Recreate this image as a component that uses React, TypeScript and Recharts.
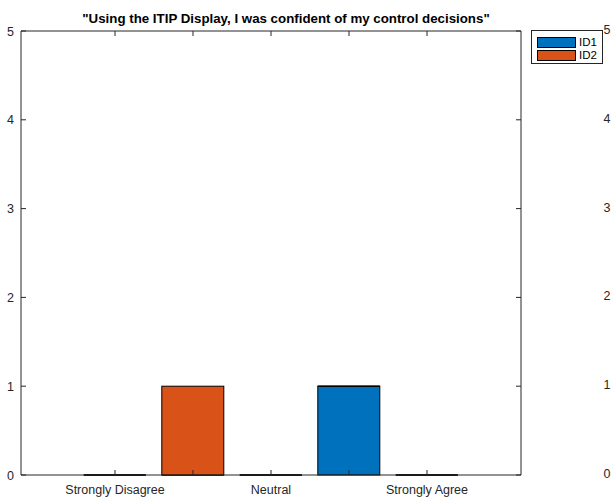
import React from "react";
import { BarChart, Bar, XAxis, YAxis, ReferenceLine } from "recharts";

const categories = ["Strongly Disagree", "Disagree", "Neutral", "Agree", "Strongly Agree"];
const tickLabels = ["Strongly Disagree", "", "Neutral", "", "Strongly Agree"];
const id1Values = [0, 0, 0, 1, 0];
const id2Values = [0, 1, 0, 0, 0];
const yTicks = [0, 1, 2, 3, 4, 5];
const seriesNames = ["ID1", "ID2"];
const seriesColors = ["#0072BD", "#D95319"];

const data = categories.map((c, i) => ({
  category: c,
  ID1: id1Values[i],
  ID2: id2Values[i],
}));

const AXIS = "#262626";
const FONT = "'Liberation Sans', Arial, Helvetica, sans-serif";
const CHART_W = 613;
const CHART_H = 500;
const M_TOP = 31;
const LEFT_W = 21;
const RIGHT_W = 92;
const BOTTOM_H = 25;
const PLOT_RIGHT = CHART_W - RIGHT_W;
const PLOT_TOP = M_TOP;
const TICK_FONT = 12.5;

const BarShape = (props: any) => {
  const { x, y, width, height, fill } = props;
  if (!height || Math.abs(height) < 0.01) {
    return <line x1={x} x2={x + width} y1={y} y2={y} stroke="#000" strokeWidth={1.5} />;
  }
  return <rect x={x} y={y} width={width} height={height} fill={fill} stroke="#000" strokeWidth={1} />;
};

const LeftTick = (props: any) => {
  const { x, y, payload } = props;
  return (
    <g>
      <line x1={x} x2={x + 5} y1={y} y2={y} stroke={AXIS} strokeWidth={1} />
      <line x1={PLOT_RIGHT - 5} x2={PLOT_RIGHT} y1={y} y2={y} stroke={AXIS} strokeWidth={1} />
      <text x={x - 7} y={y + 4.5} textAnchor="end" fontSize={TICK_FONT} fontFamily={FONT} fill={AXIS}>
        {payload.value}
      </text>
      <text x={PLOT_RIGHT + 86} y={y + 3} textAnchor="middle" fontSize={TICK_FONT} fontFamily={FONT} fill={AXIS}>
        {payload.value}
      </text>
    </g>
  );
};

const BottomTick = (props: any) => {
  const { x, y, index } = props;
  return (
    <g>
      <line x1={x} x2={x} y1={y - 5} y2={y} stroke={AXIS} strokeWidth={1} />
      <line x1={x} x2={x} y1={PLOT_TOP} y2={PLOT_TOP + 5} stroke={AXIS} strokeWidth={1} />
      <text x={x} y={y + 19} textAnchor="middle" fontSize={TICK_FONT} fontFamily={FONT} fill={AXIS}>
        {tickLabels[index] ?? ""}
      </text>
    </g>
  );
};

const LegendBox = () => (
  <div
    style={{
      position: "absolute",
      left: 531,
      top: 30,
      width: 72,
      height: 34,
      border: `1px solid ${AXIS}`,
      background: "#fff",
      boxSizing: "border-box",
      fontFamily: FONT,
      fontSize: 11.5,
      color: "#000",
      padding: "5px 0 0 5px",
    }}
  >
    {seriesNames.map((n, i) => (
      <div key={n} style={{ display: "flex", alignItems: "center", height: 13 }}>
        <div
          style={{
            width: 39,
            height: 11,
            boxSizing: "border-box",
            background: seriesColors[i],
            border: "1px solid #000",
            marginRight: 3,
          }}
        />
        <span style={{ lineHeight: "13px" }}>{n}</span>
      </div>
    ))}
  </div>
);

export default function App() {
  return (
    <div style={{ position: "absolute", left: 0, top: 0, width: CHART_W, height: CHART_H, background: "#fff" }}>
      <div
        style={{
          position: "absolute",
          left: LEFT_W + 15,
          width: PLOT_RIGHT - LEFT_W,
          top: 11,
          textAlign: "center",
          fontFamily: FONT,
          fontWeight: "bold",
          fontSize: 13.3,
          color: "#000",
          lineHeight: "16px",
          whiteSpace: "nowrap",
        }}
      >
        "Using the ITIP Display, I was confident of my control decisions"
      </div>
      <BarChart
        width={CHART_W}
        height={CHART_H}
        data={data}
        margin={{ top: M_TOP, right: 0, bottom: 0, left: 0 }}
        barCategoryGap="10%"
      >
        <XAxis
          xAxisId="bottom"
          dataKey="category"
          height={BOTTOM_H}
          padding={{ left: 55, right: 55 }}
          tickSize={0}
          tickMargin={0}
          tick={<BottomTick />}
          interval={0}
          axisLine={{ stroke: AXIS }}
          tickLine={false}
        />
        <YAxis
          yAxisId="left"
          width={LEFT_W}
          domain={[0, 5]}
          ticks={yTicks}
          tickSize={0}
          tickMargin={0}
          tick={<LeftTick />}
          axisLine={{ stroke: AXIS }}
          tickLine={false}
        />
        <YAxis
          yAxisId="right"
          orientation="right"
          width={RIGHT_W}
          domain={[0, 5]}
          ticks={yTicks}
          tick={false}
          axisLine={{ stroke: AXIS }}
          tickLine={false}
        />
        <ReferenceLine xAxisId="bottom" yAxisId="left" y={5} stroke={AXIS} ifOverflow="visible" />
        <Bar
          xAxisId="bottom"
          yAxisId="left"
          dataKey="ID1"
          stackId="s"
          fill={seriesColors[0]}
          shape={<BarShape />}
          isAnimationActive={false}
        />
        <Bar
          xAxisId="bottom"
          yAxisId="left"
          dataKey="ID2"
          stackId="s"
          fill={seriesColors[1]}
          shape={<BarShape />}
          isAnimationActive={false}
        />
      </BarChart>
      <LegendBox />
    </div>
  );
}
